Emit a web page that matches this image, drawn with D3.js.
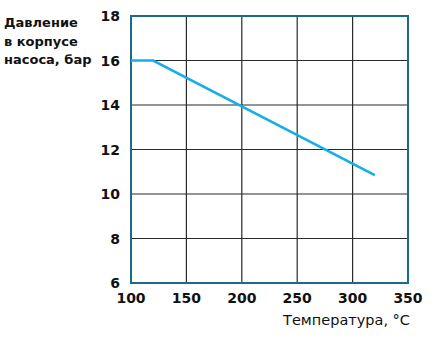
<!DOCTYPE html>
<html>
<head>
<meta charset="utf-8">
<script src="https://cdn.jsdelivr.net/npm/d3@7"></script>
<style>
  body { margin: 0; background: #fff; }
  svg text { font-family: "DejaVu Sans", Verdana, sans-serif; fill: #111; }
</style>
</head>
<body>
<div id="chart"></div>
<script>
// data
const temps = [100, 120, 320];
const pressures = [16, 16, 10.85];
const xTicks = [100, 150, 200, 250, 300, 350];
const yTicks = [6, 8, 10, 12, 14, 16, 18];
const yTitleLines = ["Давление", "в корпусе", "насоса, бар"];
const xTitle = "Температура, °C";

const margin = { top: 16, right: 28, bottom: 57, left: 131 };
const width = 436 - margin.left - margin.right;
const height = 340 - margin.top - margin.bottom;

const svg = d3.select("#chart").append("svg")
    .attr("width", 436)
    .attr("height", 340);

const g = svg.append("g")
    .attr("transform", `translate(${margin.left},${margin.top})`);

const x = d3.scaleLinear().domain([100, 350]).range([0, width]);
const y = d3.scaleLinear().domain([6, 18]).range([height, 0]);

// grid
g.append("g")
    .selectAll("line")
    .data(xTicks)
    .enter()
    .append("line")
    .attr("x1", d => x(d)).attr("x2", d => x(d))
    .attr("y1", 0).attr("y2", height)
    .attr("stroke", "#2a2a2a")
    .attr("stroke-width", 1.2);

g.append("g")
    .selectAll("line")
    .data(yTicks)
    .enter()
    .append("line")
    .attr("x1", 0).attr("x2", width)
    .attr("y1", d => y(d)).attr("y2", d => y(d))
    .attr("stroke", "#2a2a2a")
    .attr("stroke-width", 1.2);

// frame
g.append("rect")
    .attr("width", width)
    .attr("height", height)
    .attr("fill", "none")
    .attr("stroke", "#1c6a8e")
    .attr("stroke-width", 2);

// tick labels
g.append("g")
    .selectAll("text")
    .data(xTicks)
    .enter()
    .append("text")
    .attr("x", d => x(d))
    .attr("y", height + 20)
    .attr("text-anchor", "middle")
    .style("font-size", "14px")
    .style("font-weight", "bold")
    .text(d => d);

g.append("g")
    .selectAll("text")
    .data(yTicks)
    .enter()
    .append("text")
    .attr("x", -11)
    .attr("y", d => y(d) + 5)
    .attr("text-anchor", "end")
    .style("font-size", "14px")
    .style("font-weight", "bold")
    .text(d => d);

// line
g.append("path")
    .datum(temps.map((t, i) => ({ t, p: pressures[i] })))
    .attr("fill", "none")
    .attr("stroke", "#16aee8")
    .attr("stroke-width", 2.6)
    .attr("d", d3.line()
        .x(d => x(d.t))
        .y(d => y(d.p))
    );

// titles
svg.append("text")
    .attr("x", 4)
    .attr("y", 27)
    .style("font-size", "13px")
    .style("font-weight", "bold")
    .selectAll("tspan")
    .data(yTitleLines)
    .enter()
    .append("tspan")
    .attr("x", 4)
    .attr("dy", (d, i) => i === 0 ? 0 : 18.5)
    .text(d => d);

svg.append("text")
    .attr("x", 410)
    .attr("y", 325)
    .attr("text-anchor", "end")
    .style("font-size", "14.5px")
    .style("font-weight", "500")
    .text(xTitle);
</script>
</body>
</html>
